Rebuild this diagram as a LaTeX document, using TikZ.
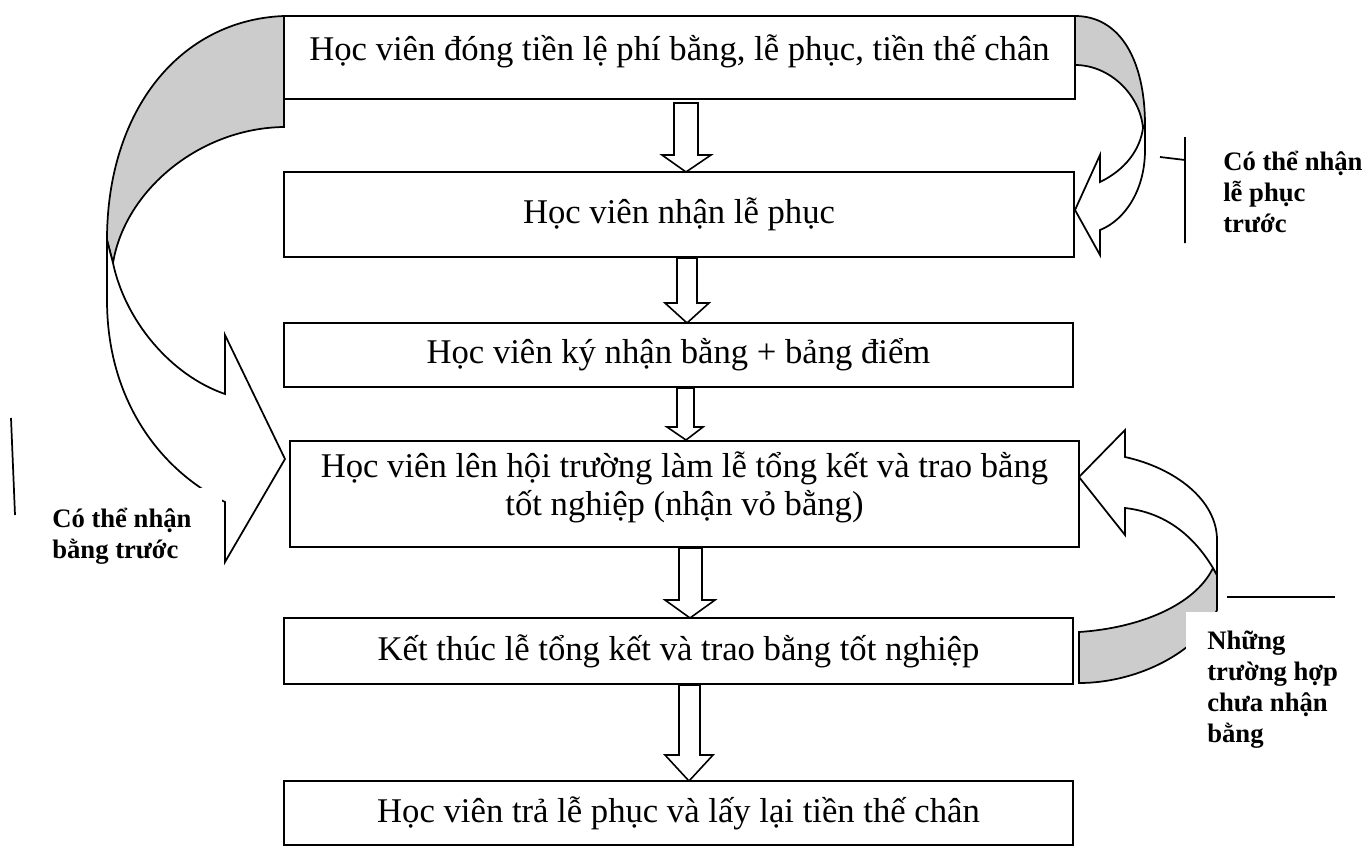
\documentclass[tikz,border=0pt]{standalone}
\usepackage{fontspec}
\setmainfont{Liberation Serif}
\usetikzlibrary{calc}
\definecolor{bandgray}{RGB}{204,204,204}
\begin{document}
\begin{tikzpicture}[x=0.75pt,y=-0.75pt,line join=miter]
\useasboundingbox (0,0) rectangle (1363,846);
\tikzset{
 box/.style={draw,line width=1.5pt,fill=white,inner sep=0pt,align=center,font=\fontsize{26}{29}\selectfont},
 boxtext/.style={inner sep=0pt,align=center,font=\fontsize{26}{29}\selectfont},
 band/.style={draw,line width=1.3pt,fill=bandgray},
 front/.style={draw,line width=1.3pt,fill=white},
 blk/.style={draw,line width=1.2pt,fill=white},
 lbl/.style={font=\bfseries\fontsize{20}{23.2}\selectfont,align=left,anchor=north west,inner sep=0pt},
 call/.style={line width=1.3pt},
 cover/.style={fill=white,draw=none}
}
% boxes
\node[box,minimum width=791*0.75pt,minimum height=83*0.75pt] (b1) at (679.5,57.5) {};
\node[boxtext] (t1) at (679.5,51) {Học viên đóng tiền lệ phí bằng, lễ phục, tiền thế chân};
\node[box,minimum width=790*0.75pt,minimum height=85*0.75pt] (b2) at (679,214.5) {Học viên nhận lễ phục};
\node[box,minimum width=789*0.75pt,minimum height=64*0.75pt] (b3) at (678.5,355) {Học viên ký nhận bằng + bảng điểm};
\node[box,minimum width=789*0.75pt,minimum height=106*0.75pt] (b4) at (684.5,494) {};
\node[boxtext] (t4) at (684.5,487.5) {Học viên lên hội trường làm lễ tổng kết và trao bằng\\tốt nghiệp (nhận vỏ bằng)};
\node[box,minimum width=789*0.75pt,minimum height=66*0.75pt] (b5) at (678.5,651) {Kết thúc lễ tổng kết và trao bằng tốt nghiệp};
\node[box,minimum width=789*0.75pt,minimum height=64*0.75pt] (b6) at (678.5,813) {Học viên trả lễ phục và lấy lại tiền thế chân};

% down block arrows
\draw[blk] (674,103) -- (698,103) -- (698,155) -- (711,155) -- (686,172) -- (662,155) -- (674,155) -- cycle;
\draw[blk] (677,258) -- (697,258) -- (697,303) -- (709,303) -- (687,323) -- (665,303) -- (677,303) -- cycle;
\draw[blk] (677,388) -- (694,388) -- (694,427) -- (703,427) -- (686,440) -- (667,427) -- (677,427) -- cycle;
\draw[blk] (679,548) -- (702,548) -- (702,600) -- (715,600) -- (690,618) -- (665,600) -- (679,600) -- cycle;
\draw[blk] (679,685) -- (700,685) -- (700,755) -- (713,755) -- (689,781) -- (665,755) -- (679,755) -- cycle;

% right top curved arrow (b1 -> b2)
\draw[band] (1075,16) .. controls (1120,16) and (1145,60) .. (1145,125)
  -- (1143,128) .. controls (1140,95) and (1110,65) .. (1075,65) -- cycle;
\draw[front] (1145,125) -- (1145,150) .. controls (1145,190) and (1125,220) .. (1100,230)
  -- (1100,255) -- (1075,210) -- (1100,155) -- (1100,182)
  .. controls (1125,170) and (1140,150) .. (1143,128) -- cycle;

% left big curved arrow (b1 -> b4)
\draw[band] (284,16) .. controls (180,20) and (107,110) .. (107,240)
  -- (113,263) .. controls (125,190) and (200,128) .. (284,127) -- cycle;
\draw[front] (107,240) -- (107,300) .. controls (107,400) and (160,470) .. (225,502)
  -- (225,562) -- (285,459) -- (225,335) -- (225,394)
  .. controls (170,375) and (125,320) .. (113,263) -- cycle;

% bottom right curved arrow (b5 -> b4)
\draw[band] (1079,632) .. controls (1140,628) and (1195,605) .. (1213,568)
  -- (1217,575) -- (1217,610) .. controls (1200,650) and (1140,683) .. (1079,683) -- cycle;
\draw[front] (1213,568) .. controls (1190,530) and (1160,512) .. (1125,508)
  -- (1125,535) -- (1079,477) -- (1125,430) -- (1125,457)
  .. controls (1175,468) and (1217,500) .. (1217,540) -- (1217,575) -- cycle;

% label covers
\fill[cover] (30,488) rectangle (222,585);
\fill[cover] (1186,612) rectangle (1363,760);

% labels
\node[lbl] (l1) at (1223,151) {Có thể nhận\\lễ phục\\trước};
\node[lbl] (l2) at (52,508) {Có thể nhận\\bằng trước};
\node[lbl] (l3) at (1207,631) {Những\\trường hợp\\chưa nhận\\bằng};

% callout lines
\coordinate (c1a) at (1160,157); \coordinate (c1b) at (1185,160);
\coordinate (c1c) at (1185,137); \coordinate (c1d) at (1185,243);
\draw[call] (c1a) -- (c1b) (c1c) -- (c1d);
\coordinate (c2a) at (11,418); \coordinate (c2b) at (15,515);
\draw[call] (c2a) -- (c2b);
\coordinate (c3a) at (1227,597); \coordinate (c3b) at (1335,597);
\draw[call] (c3a) -- (c3b);
\end{tikzpicture}
\end{document}
